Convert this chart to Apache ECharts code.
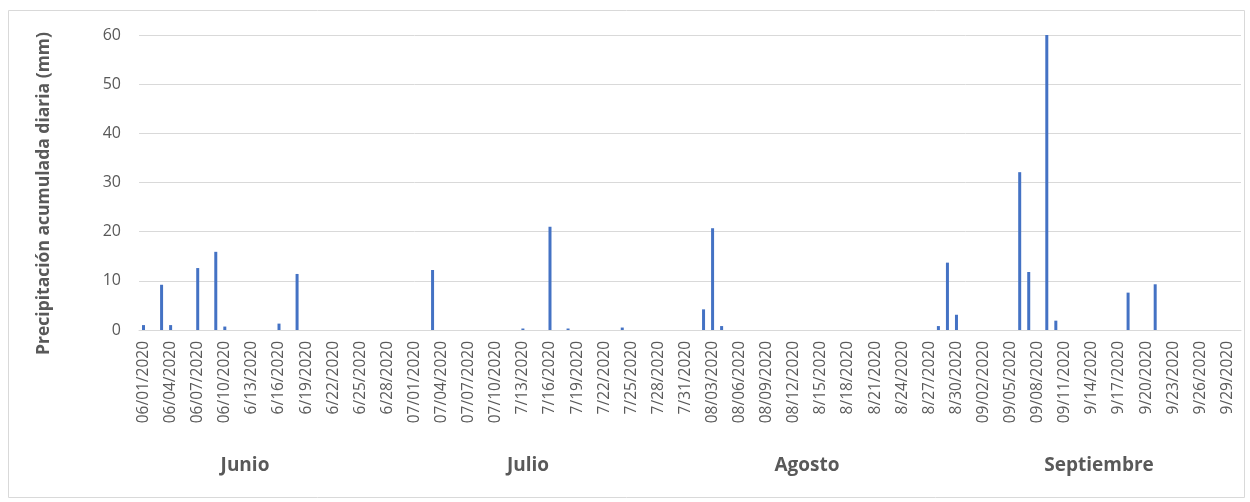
<!DOCTYPE html>
<html>
<head>
<meta charset="utf-8">
<script src="https://cdn.jsdelivr.net/npm/echarts@6/dist/echarts.min.js"></script>
<style>
	html, body { margin: 0; padding: 0; background: #fff; }
	#chart { width: 1250px; height: 502px; }
</style>
</head>
<body>
<div id="chart"></div>
<script>
// fechas (etiquetas del eje X, como en la hoja de Excel)
var fechas = [
	'06/01/2020','06/02/2020','06/03/2020','06/04/2020','06/05/2020','06/06/2020','06/07/2020','06/08/2020','06/09/2020','06/10/2020',
	'06/11/2020','06/12/2020','6/13/2020','6/14/2020','6/15/2020','6/16/2020','6/17/2020','6/18/2020','6/19/2020','6/20/2020',
	'6/21/2020','6/22/2020','6/23/2020','6/24/2020','6/25/2020','6/26/2020','6/27/2020','6/28/2020','6/29/2020','6/30/2020',
	'07/01/2020','07/02/2020','07/03/2020','07/04/2020','07/05/2020','07/06/2020','07/07/2020','07/08/2020','07/09/2020','07/10/2020',
	'07/11/2020','07/12/2020','7/13/2020','7/14/2020','7/15/2020','7/16/2020','7/17/2020','7/18/2020','7/19/2020','7/20/2020',
	'7/21/2020','7/22/2020','7/23/2020','7/24/2020','7/25/2020','7/26/2020','7/27/2020','7/28/2020','7/29/2020','7/30/2020','7/31/2020',
	'08/01/2020','08/02/2020','08/03/2020','08/04/2020','08/05/2020','08/06/2020','08/07/2020','08/08/2020','08/09/2020','08/10/2020',
	'08/11/2020','08/12/2020','8/13/2020','8/14/2020','8/15/2020','8/16/2020','8/17/2020','8/18/2020','8/19/2020','8/20/2020',
	'8/21/2020','8/22/2020','8/23/2020','8/24/2020','8/25/2020','8/26/2020','8/27/2020','8/28/2020','8/29/2020','8/30/2020','8/31/2020',
	'09/01/2020','09/02/2020','09/03/2020','09/04/2020','09/05/2020','09/06/2020','09/07/2020','09/08/2020','09/09/2020','09/10/2020',
	'09/11/2020','09/12/2020','9/13/2020','9/14/2020','9/15/2020','9/16/2020','9/17/2020','9/18/2020','9/19/2020','9/20/2020',
	'9/21/2020','9/22/2020','9/23/2020','9/24/2020','9/25/2020','9/26/2020','9/27/2020','9/28/2020','9/29/2020','9/30/2020'
];

// precipitación diaria (mm) por mes
var junio = [1.0,0,9.2,1.0,0,0,12.6,0,15.9,0.7, 0,0,0,0,0,1.3,0,11.4,0,0, 0,0,0,0,0,0,0,0,0,0];
var julio = [0,0,12.2,0,0,0,0,0,0,0, 0,0,0.3,0,0,21.0,0,0.3,0,0, 0,0,0,0.5,0,0,0,0,0,0,0];
var agosto = [0,4.2,20.7,0.8,0,0,0,0,0,0, 0,0,0,0,0,0,0,0,0,0, 0,0,0,0,0,0,0,0.8,13.7,3.1,0];
var septiembre = [0,0,0,0,0,32.1,11.8,0,60,1.9, 0,0,0,0,0,0,0,7.6,0,0, 9.3,0,0,0,0,0,0,0,0,0];

var meses = ['Junio', 'Julio', 'Agosto', 'Septiembre'];
var mesesX = [245, 528, 807, 1099];

var precipitacion = junio.concat(julio, agosto, septiembre);

var chartObj = echarts.init(document.getElementById('chart'));

var gris = '#595959';
var fuente = '"Open Sans", sans-serif';

// borde del gráfico y textos de los meses bajo las fechas
var graficos = [{
	type: 'rect',
	shape: { x: 8.5, y: 10.5, width: 1236, height: 487 },
	style: { fill: 'none', stroke: '#d9d9d9', lineWidth: 1 },
	silent: true
}];
for (var i = 0; i < meses.length; i++) {
	graficos.push({
		type: 'text',
		x: mesesX[i],
		y: 466,
		style: {
			text: meses[i],
			fill: gris,
			font: 'bold 19px ' + fuente,
			align: 'center',
			verticalAlign: 'middle'
		}
	});
}

var option = {
	animation: false,
	textStyle: { fontFamily: fuente },
	grid: { left: 139, right: 9, top: 35, bottom: 172 },
	xAxis: {
		type: 'category',
		data: fechas,
		axisLine: { lineStyle: { color: '#d9d9d9', width: 1 } },
		axisTick: { show: false },
		axisLabel: {
			interval: 2,
			rotate: 90,
			color: gris,
			fontSize: 15.5,
			margin: 11,
			fontFamily: fuente
		}
	},
	yAxis: {
		type: 'value',
		min: 0,
		max: 60,
		interval: 10,
		name: 'Precipitación acumulada diaria (mm)',
		nameLocation: 'middle',
		nameGap: 86,
		nameTextStyle: { color: gris, fontSize: 17.5, fontWeight: 'bold', fontFamily: fuente, padding: [0, 22, 0, 0] },
		axisLine: { show: false },
		axisTick: { show: false },
		axisLabel: { color: gris, fontSize: 16, margin: 18, fontFamily: fuente },
		splitLine: { lineStyle: { color: '#d9d9d9', width: 1 } }
	},
	series: [{
		type: 'bar',
		data: precipitacion,
		barWidth: 3,
		itemStyle: { color: '#4472C4' }
	}],
	graphic: graficos
};

chartObj.setOption(option);
</script>
</body>
</html>
